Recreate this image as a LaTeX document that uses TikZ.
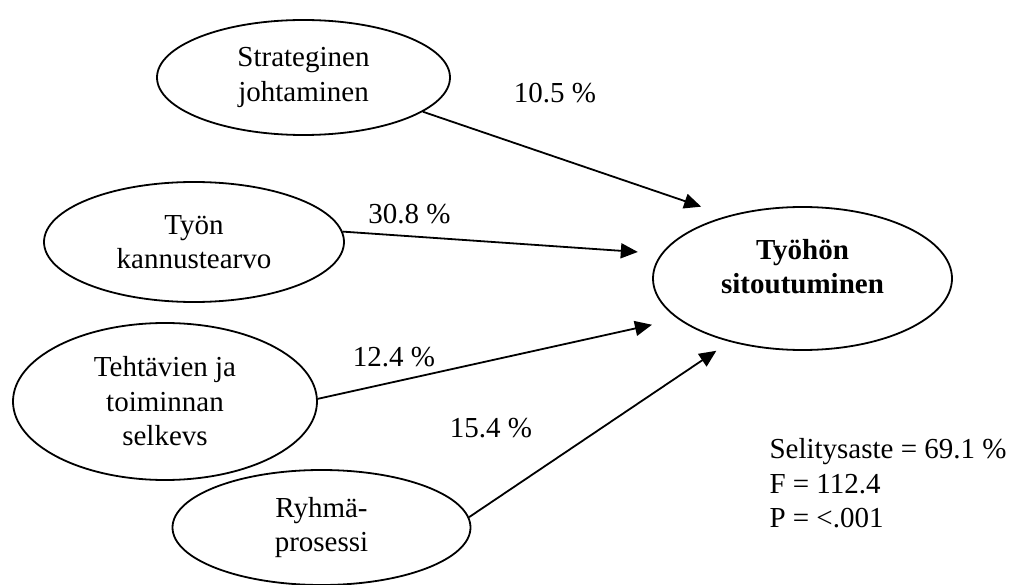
\documentclass[tikz,border=0pt]{standalone}
\usepackage{fontspec}
\setmainfont{Liberation Serif}
\usetikzlibrary{shapes.geometric,arrows.meta}
\begin{document}
\begin{tikzpicture}[x=1pt,y=-1pt,
  txt/.style={font=\fontsize{29}{34.5}\selectfont},
  oval/.style={ellipse, draw, line width=1.8pt, inner sep=0pt, align=center, txt},
  link/.style={line width=1.8pt, -{Triangle[length=17pt,width=15pt]}},
  pct/.style={txt, anchor=base, inner sep=0pt}]
\useasboundingbox (0,0) rectangle (1010,585);

% predictor ovals
\node[oval, minimum width=293pt, minimum height=115pt] (s1) at (303.5,77.5) {Strateginen\\johtaminen};
\node[oval, minimum width=300pt, minimum height=120pt] (s2) at (194,242) {Työn\\kannustearvo};
\node[oval, minimum width=304pt, minimum height=157pt] (s3) at (165,401.5) {Tehtävien ja\\toiminnan\\selkevs};
\node[oval, minimum width=298pt, minimum height=115pt] (s4) at (321.5,527.5) {Ryhmä-\\prosessi};

% outcome oval, its text set a little above the middle
\node[oval, minimum width=299pt, minimum height=143pt, text depth=24pt,
      font=\fontsize{29}{34.5}\selectfont\bfseries] (t) at (802.5,278.5) {Työhön\\sitoutuminen};

% paths with explained shares
\draw[link, shorten >=28pt] (s1.-16) -- (t.140.5);
\draw[link, shorten >=23.5pt] (s2.4.4) -- (t.170.9);
\draw[link, shorten >=26.5pt] (s3.1.3) -- (t.198.4);
\draw[link, shorten >=16pt] (s4.4.1) -- (t.221.7);

\node[pct] (p1) at (555,103) {10.5 \%};
\node[pct] (p2) at (409.5,223.3) {30.8 \%};
\node[pct] (p3) at (394,366.7) {12.4 \%};
\node[pct] (p4) at (491,438) {15.4 \%};

% model statistics (anchored on the baseline of the last line)
\node[txt, anchor=base west, inner sep=0pt, align=left] (stats) at (769.3,527.5)
  {Selitysaste = 69.1 \%\\F = 112.4\\P = <.001};
\end{tikzpicture}
\end{document}
